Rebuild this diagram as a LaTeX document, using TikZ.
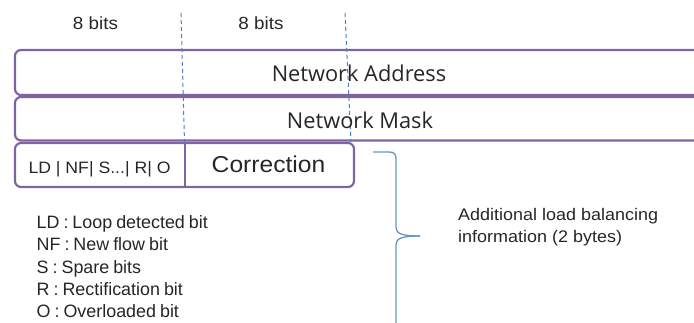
\documentclass[tikz,border=0pt]{standalone}
\usepackage{fontspec}
\setmainfont{Liberation Sans}[FakeStretch=1.07]
\newfontfamily\legendfont{Liberation Sans}[WordSpace=0.8]
\newfontfamily\netfont{Open Sans}
\definecolor{boxpurple}{RGB}{128,100,162}
\definecolor{lineblue}{RGB}{79,129,189}
\begin{document}
\begin{tikzpicture}[x=1pt,y=-1pt,
  rowbox/.style={draw=boxpurple, line width=2.2pt, rounded corners=6pt, rectangle, inner sep=0pt},
  guide/.style={draw=lineblue, line width=1pt, dash pattern=on 4pt off 3pt},
  brace/.style={draw=lineblue!85!white, line width=1.3pt},
  txt/.style={inner sep=0pt, text=black!85},
  bitlabel/.style={txt, anchor=base, font=\fontsize{17.6}{20}\selectfont},
  netlabel/.style={txt, anchor=base, font=\netfont\fontsize{21.8}{24}\selectfont},
  legend/.style={txt, anchor=base west, font=\legendfont\fontsize{17.9}{20}\selectfont},
]
\useasboundingbox (0,0) rectangle (694,322);
\begin{scope}
\clip (0,0) rectangle (694,322);
% rows
\node[rowbox, minimum width=715pt, minimum height=45pt] (row1) at (372.5,72.5) {};
\node[rowbox, minimum width=715pt, minimum height=43.5pt] (row2) at (372.5,118.75) {};
\node[rowbox, minimum width=339pt, minimum height=44pt] (row3) at (184.5,165) {};
\coordinate (divx) at (185,0);
\draw[boxpurple, line width=2.2pt] (row3.north -| divx) -- (row3.south -| divx);
% dashed guides
\coordinate (g1top) at (181,13);
\coordinate (g1bot) at (184.5,143);
\coordinate (g2top) at (345,13);
\coordinate (g2bot) at (351,142);
\draw[guide] (g1top) -- (g1bot);
\draw[guide] (g2top) -- (g2bot);
% labels
\node[bitlabel] (bits1) at (95.5,29) {8 bits};
\node[bitlabel] (bits2) at (261,29) {8 bits};
\node[netlabel] (addr) at (359,81) {Network Address};
\node[netlabel] (mask) at (360,128) {Network Mask};
\node[txt, anchor=base, font=\fontsize{16.5}{19}\selectfont] (flags) at (99.5,173) {LD | NF| S...| R| O};
\node[txt, anchor=base, font=\fontsize{23}{26}\selectfont] (corr) at (268.5,172) {Correction};
% legend
\node[legend] (lg1) at (36.5,228.5) {LD : Loop detected bit};
\node[legend] (lg2) at (36.5,250.8) {NF : New flow bit};
\node[legend] (lg3) at (36.5,273) {S : Spare bits};
\node[legend] (lg4) at (36.5,295) {R : Rectification bit};
\node[legend] (lg5) at (36.5,317) {O : Overloaded bit};
% brace
\coordinate (btop) at (373,152);
\coordinate (btip) at (420,236);
\coordinate (bbot) at (396,330);
\draw[brace] (btop) -- (389,152) .. controls (394,152) and (396,154) .. (396,159)
  -- (396,227) .. controls (396,233) and (400,236) .. (btip);
\draw[brace] (btip) .. controls (400,236) and (396,239) .. (396,245) -- (bbot);
\node[txt, anchor=base west, font=\fontsize{16.8}{19}\selectfont] (info1) at (458,220) {Additional load balancing};
\node[txt, anchor=base west, font=\fontsize{16.8}{19}\selectfont] (info2) at (458,242) {information (2 bytes)};
\end{scope}
\end{tikzpicture}
\end{document}
